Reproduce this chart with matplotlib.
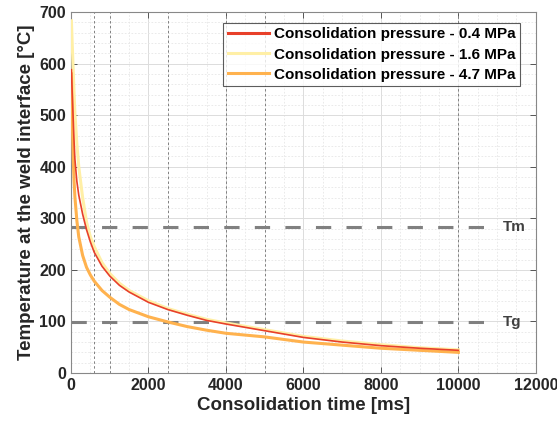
import numpy as np
import matplotlib
matplotlib.use("Agg")
import matplotlib.pyplot as plt
from matplotlib.ticker import MultipleLocator

plt.rcParams['font.family'] = ['Liberation Sans', 'DejaVu Sans']

# interface temperature vs consolidation time, one series per pressure
t_ms = [10, 30, 50, 75, 100, 150, 200, 300, 400, 500, 600, 800, 1000, 1250, 1500,
        2000, 2500, 3000, 3500, 4000, 5000, 6000, 7000, 8000, 9000, 10000]
temp_04 = [588, 545, 505, 455, 415, 372, 345, 308, 278, 254, 234, 207, 188, 170, 157,
           137, 123, 112, 102, 95, 82, 69, 60, 53, 48, 44]
temp_16 = [683, 640, 600, 550, 505, 445, 400, 340, 293, 264, 245, 214, 193, 174, 160,
           140, 125, 114, 104, 97, 84, 71, 62, 55, 49, 45]
t_47 = [10, 25, 40, 60, 80, 100, 150, 200, 300, 400, 500, 600, 800, 1000, 1250, 1500,
        2000, 2500, 3000, 3500, 4000, 5000, 6000, 7000, 8000, 9000, 10000]
temp_47 = [580, 520, 470, 410, 370, 342, 296, 264, 228, 205, 190, 178, 160, 147, 133, 123,
           109, 99, 90, 83, 77, 70, 60, 54, 48, 44, 40]

labels = ["Consolidation pressure - 0.4 MPa",
          "Consolidation pressure - 1.6 MPa",
          "Consolidation pressure - 4.7 MPa"]
colors = ["#E8402A", "#FFEFA6", "#FFB24E"]

marker_times = [600, 1000, 2500, 4000, 5000, 10000]
T_m = 283
T_g = 98

fig = plt.figure(figsize=(5.57, 4.28), dpi=100)
ax = fig.add_axes([0.1275, 0.1285, 0.8345, 0.8435])

ax.set_xlim(0, 12000)
ax.set_ylim(0, 700)
ax.xaxis.set_major_locator(MultipleLocator(2000))
ax.xaxis.set_minor_locator(MultipleLocator(500))
ax.yaxis.set_major_locator(MultipleLocator(100))
ax.yaxis.set_minor_locator(MultipleLocator(20))
ax.grid(which='major', color='#dcdcdc', linewidth=0.7)
ax.grid(which='minor', color='#e6e6e6', linewidth=0.6, linestyle=(0, (2, 2)))
ax.set_axisbelow(True)

for t in marker_times:
    ax.axvline(t, color='#808080', linewidth=0.7, linestyle=(0, (2.5, 2.5)), zorder=1.5)

for y, name in [(T_m, "Tm"), (T_g, "Tg")]:
    ax.plot([0, 11000], [y, y], color='#808080', linewidth=2.2,
            linestyle=(0, (5, 5)), zorder=1.6)
    ax.text(11150, y, name, fontsize=11, fontweight='bold', color='#404040',
            va='center', ha='left')

ax.plot(t_ms, temp_16, color=colors[1], linewidth=2.6, label=labels[1], zorder=3)
ax.plot(t_47, temp_47, color=colors[2], linewidth=2.0, label=labels[2], zorder=3)
ax.plot(t_ms, temp_04, color=colors[0], linewidth=1.2, zorder=4)
ax.plot([], [], color=colors[0], linewidth=2.2, label=labels[0])

handles, labs = ax.get_legend_handles_labels()
order = [labs.index(l) for l in labels]
for h in handles:
    h.set_linewidth(2.2)
leg = ax.legend([handles[i] for i in order], labels, loc='upper right',
                bbox_to_anchor=(0.967, 0.97), prop={'weight': 'bold', 'size': 11},
                frameon=True, fancybox=False, handlelength=2.7, borderpad=0.3,
                labelspacing=0.4, handletextpad=0.35, borderaxespad=0)
leg.get_frame().set_edgecolor('#333333')
leg.get_frame().set_linewidth(0.8)

ax.tick_params(which='both', direction='in', top=True, right=True,
               labelsize=11.5, colors='#262626')
ax.tick_params(which='minor', length=0)
ax.tick_params(which='major', length=4, width=0.7, color='#555555')
for lbl in ax.get_xticklabels() + ax.get_yticklabels():
    lbl.set_fontweight('bold')
for s in ax.spines.values():
    s.set_color('#888888')
    s.set_linewidth(0.8)

ax.set_xlabel("Consolidation time [ms]", fontsize=13.5, fontweight='bold',
              color='#262626', labelpad=3)
ax.set_ylabel("Temperature at the weld interface [°C]", fontsize=13.5,
              fontweight='bold', color='#262626', labelpad=3)

fig.savefig("out.png", dpi=100)
